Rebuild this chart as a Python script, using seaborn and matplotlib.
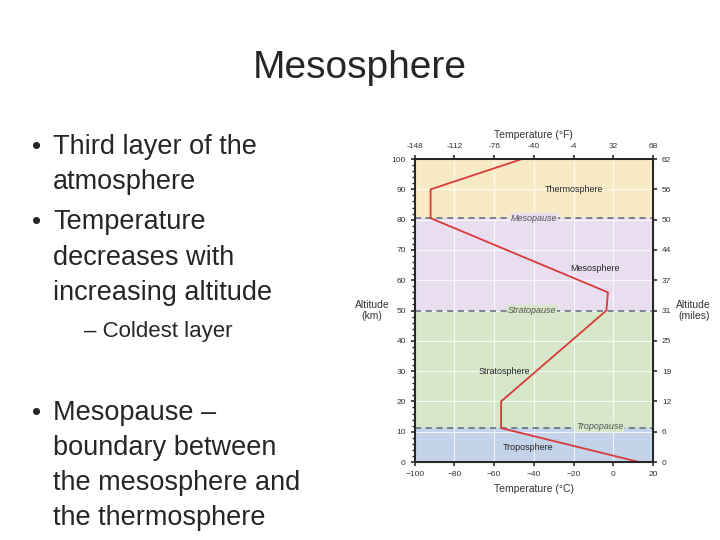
import matplotlib
matplotlib.use("Agg")
import matplotlib.pyplot as plt
import seaborn as sns
import pandas as pd
from matplotlib.ticker import MultipleLocator

temps_c = [13, -56.5, -56.5, -3.5, -2.7, -92, -92, -46]
alts_km = [0, 11.2, 20, 50, 56, 80.5, 90, 100]
layer_names = ["Troposphere", "Stratosphere", "Mesosphere", "Thermosphere"]
layer_bounds = [0, 11.2, 50, 80.5, 100]
layer_colors = ["#c3d3e9", "#d6e8c9", "#e9def0", "#f9eac6"]
pause_names = ["Tropopause", "Stratopause", "Mesopause"]
c_ticks = [-100, -80, -60, -40, -20, 0, 20]
f_labels = ["-148", "-112", "-76", "-40", "-4", "32", "68"]
km_ticks = [0, 10, 20, 30, 40, 50, 60, 70, 80, 90, 100]
mile_labels = ["0", "6", "12", "19", "25", "31", "37", "44", "50", "56", "62"]

sns.set_theme(style="white")
plt.rcParams['font.family'] = ['Liberation Sans', 'DejaVu Sans']
fig = plt.figure(figsize=(7.2, 5.4), dpi=100)
fig.patch.set_facecolor("white")

fig.text(0.5, 0.875, "Mesosphere", ha="center", va="center", fontsize=28)
bul = [("•", "Third layer of the", 0.728), (None, "atmosphere", 0.663),
       ("•", "Temperature", 0.589), (None, "decreases with", 0.522), (None, "increasing altitude", 0.457),
       ("–", "Coldest layer", 0.387),
       ("•", "Mesopause –", 0.235), (None, "boundary between", 0.170),
       (None, "the mesosphere and", 0.106), (None, "the thermosphere", 0.040)]
for mark, txt, y in bul:
    if mark == "–":
        fig.text(0.117, y, "– " + txt, fontsize=16, va="center")
    else:
        if mark:
            fig.text(0.044, y, "•", fontsize=19, va="center")
        fig.text(0.074, y, txt, fontsize=19.5, va="center")

ax = fig.add_axes([0.576, 0.1444, 0.331, 0.561])
for i in range(4):
    ax.axhspan(layer_bounds[i], layer_bounds[i+1], color=layer_colors[i], zorder=0, lw=0)
for t in c_ticks:
    ax.axvline(t, color="white", lw=0.8, alpha=0.8, zorder=1)
for k in km_ticks:
    ax.axhline(k, color="white", lw=0.8, alpha=0.8, zorder=1)
for b in layer_bounds[1:4]:
    ax.axhline(b, color="#5a6878", lw=1.1, ls=(0, (4, 3)), zorder=2)
df = pd.DataFrame({"T": temps_c, "z": alts_km})
sns.lineplot(data=df, x="T", y="z", sort=False, estimator=None, orient="y",
             color="#d83a3a", lw=1.3, ax=ax, zorder=3)
ax.set_xlim(-100, 20); ax.set_ylim(0, 100)
ax.set_xticks(c_ticks); ax.set_yticks(km_ticks)
ax.tick_params(labelsize=6, colors="#333333", length=3, direction="out")
ax.set_xlabel("Temperature (°C)", fontsize=7.5, color="#333333")
ax.set_ylabel("Altitude\n(km)", fontsize=7.5, rotation=0, color="#333333", labelpad=14, va="center")
ax.yaxis.set_minor_locator(MultipleLocator(2))
ax.tick_params(which="minor", length=2, left=True)
for s in ax.spines.values():
    s.set_color("#555555"); s.set_linewidth(0.8)
axt = ax.twiny(); axt.set_xlim(-100, 20); axt.set_xticks(c_ticks); axt.set_xticklabels(f_labels)
axt.tick_params(labelsize=6, colors="#333333", length=3)
axt.set_xlabel("Temperature (°F)", fontsize=7.5, color="#333333")
axr = ax.twinx(); axr.set_ylim(0, 100); axr.set_yticks(km_ticks); axr.set_yticklabels(mile_labels)
axr.tick_params(labelsize=6, colors="#333333", length=3)
axr.set_ylabel("Altitude\n(miles)", fontsize=7.5, rotation=0, color="#333333", labelpad=16, va="center")
ax.text(-43, 4.8, layer_names[0], fontsize=6.5, ha="center", va="center", zorder=4)
ax.text(-55, 30, layer_names[1], fontsize=6.5, ha="center", va="center", zorder=4)
ax.text(-9, 64, layer_names[2], fontsize=6.5, ha="center", va="center", zorder=4)
ax.text(-20, 90, layer_names[3], fontsize=6.5, ha="center", va="center", zorder=4)
for name, x, y, c in [(pause_names[0], -7, 11.6, layer_colors[1]),
                      (pause_names[1], -41, 50, layer_colors[1]),
                      (pause_names[2], -40, 80.5, layer_colors[2])]:
    ax.text(x, y, name, fontsize=6.5, ha="center", va="center", style="italic", color="#555555",
            zorder=4, bbox=dict(facecolor=c, edgecolor="none", pad=0.5))

fig.savefig("out.png", dpi=100)
